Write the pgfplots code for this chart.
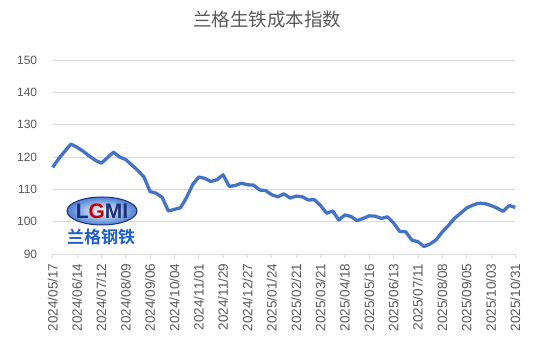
\documentclass[border=0pt]{standalone}
\usepackage{pgfplots}
\pgfplotsset{compat=1.18}
\usepackage{fontspec}
\setmainfont{Liberation Sans}
\newfontfamily\cjk{Noto Sans CJK SC}
\newfontfamily\cjkb{Noto Sans CJK SC Bold}
\definecolor{lineblue}{HTML}{4472C4}
\definecolor{txtgray}{HTML}{595959}
\definecolor{gridgray}{HTML}{D9D9D9}
\definecolor{logoblue}{HTML}{1F5FC8}
\definecolor{logonavy}{HTML}{1B2F7A}
\begin{document}
\begin{tikzpicture}
\begin{axis}[
  name=ax,
  scale only axis,
  width=462.6pt, height=194pt,
  xmin=0, xmax=76, ymin=90, ymax=150,
  ytick={90,100,...,150},
  xtick={0,4,...,76},
  xticklabels={2024/05/17,2024/06/14,2024/07/12,2024/08/09,2024/09/06,2024/10/04,2024/11/01,2024/11/29,2024/12/27,2025/01/24,2025/02/21,2025/03/21,2025/04/18,2025/05/16,2025/06/13,2025/07/11,2025/08/08,2025/09/05,2025/10/03,2025/10/31},
  axis lines*=left,
  y axis line style={draw=none},
  x axis line style={draw=gridgray, line width=0.8pt},
  ymajorgrids,
  grid style={draw=gridgray, line width=0.8pt},
  major y tick style={draw=none},
  major x tick style={draw=gridgray, line width=0.8pt},
  tick align=outside,
  major tick length=4pt,
  /pgf/number format/assume math mode=true,
  tick label style={font=\fontsize{12}{14}\selectfont, text=txtgray},
  x tick label style={rotate=90, anchor=east, xshift=-2pt, font=\fontsize{13.5}{15}\selectfont},
  y tick label style={xshift=-8pt},
  clip=false,
]
\addplot[lineblue, line width=3.3pt, line join=round] coordinates {
(0,116.8)(1,119.5)(2,121.8)(3,124.0)(4,123.0)(5,121.8)(6,120.3)(7,119.0)(8,118.1)(9,119.8)
(10,121.5)(11,120.0)(12,119.2)(13,117.5)(14,115.8)(15,113.8)(16,109.3)(17,108.8)(18,107.5)(19,103.3)
(20,103.8)(21,104.3)(22,107.5)(23,111.5)(24,113.8)(25,113.4)(26,112.4)(27,113.0)(28,114.5)(29,110.9)
(30,111.2)(31,111.9)(32,111.4)(33,111.3)(34,109.8)(35,109.6)(36,108.3)(37,107.7)(38,108.6)(39,107.3)
(40,107.9)(41,107.7)(42,106.7)(43,106.8)(44,105.0)(45,102.6)(46,103.3)(47,100.5)(48,102.1)(49,101.6)
(50,100.3)(51,101.0)(52,101.8)(53,101.7)(54,101.0)(55,101.5)(56,99.6)(57,97.0)(58,96.9)(59,94.3)
(60,93.8)(61,92.3)(62,93.1)(63,94.4)(64,96.8)(65,98.8)(66,101.0)(67,102.6)(68,104.2)(69,105.1)
(70,105.7)(71,105.6)(72,105.0)(73,104.2)(74,103.2)(75,105.0)(76,104.4)
};
\end{axis}
% title
\node[font=\cjk\fontsize{18.5}{20}\selectfont, text=txtgray] at ([xshift=214.3pt,yshift=40pt]ax.north west) {兰格生铁成本指数};
% logo (approximation)
\shade[inner color=white, outer color=logoblue!80, draw=logonavy, line width=1pt] ([xshift=49.3pt,yshift=43pt]ax.south west) ellipse (35pt and 14pt);
\node[font=\bfseries\fontsize{21}{22}\selectfont, text=logonavy] at ([xshift=49.3pt,yshift=43pt]ax.south west) {L\textcolor{red!75!black}{G}MI};
\node[font=\cjkb\fontsize{17}{18}\selectfont, text=logoblue] at ([xshift=48.3pt,yshift=17pt]ax.south west) {兰格钢铁};
\path[use as bounding box] ([xshift=-52.7pt,yshift=-95pt]ax.south west) rectangle ([xshift=18.7pt,yshift=60pt]ax.north east);
\end{tikzpicture}
\end{document}
